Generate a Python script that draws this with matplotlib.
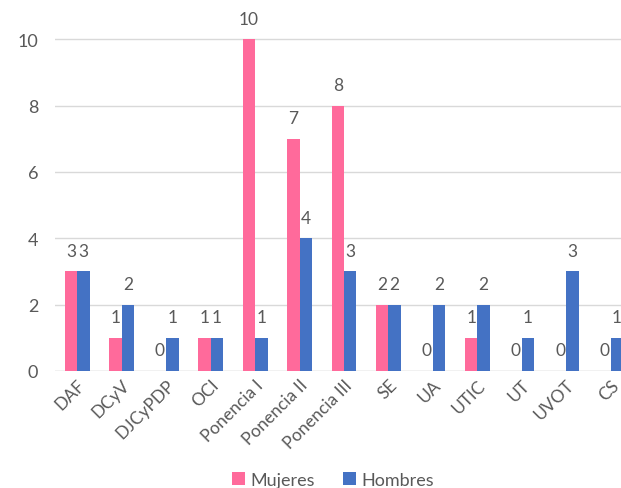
import matplotlib.pyplot as plt
import numpy as np

plt.rcParams['font.family'] = ['Lato', 'DejaVu Sans']

categories = ["DAF", "DCyV", "DJCyPDP", "OCI", "Ponencia I", "Ponencia II", "Ponencia III",
              "SE", "UA", "UTIC", "UT", "UVOT", "CS"]
mujeres = [3, 1, 0, 1, 10, 7, 8, 2, 0, 1, 0, 0, 0]
hombres = [3, 2, 1, 1, 1, 4, 3, 2, 2, 2, 1, 3, 1]

pink = "#FF6A9B"
blue = "#4472C4"
gray = "#595959"

fig = plt.figure(figsize=(6.21, 4.89), dpi=100)
W, H = 621, 489
left, right, bottom, top = 55, 633, 372, 7
ax = fig.add_axes([left / W, (H - bottom) / H, (right - left) / W, (bottom - top) / H])

x = np.arange(len(categories))
w = 0.28
b1 = ax.bar(x - w / 2, mujeres, w, color=pink, label="Mujeres", zorder=3)
b2 = ax.bar(x + w / 2, hombres, w, color=blue, label="Hombres", zorder=3)

for bars, vals in ((b1, mujeres), (b2, hombres)):
    for rect, v in zip(bars, vals):
        ax.annotate(str(v), (rect.get_x() + rect.get_width() / 2, v),
                    xytext=(0, 9), textcoords="offset points",
                    ha="center", va="bottom", fontsize=12.5, color=gray)

ax.set_xlim(-0.5, len(categories) - 0.5)
ax.set_ylim(0, 11)
ax.set_yticks([0, 2, 4, 6, 8, 10])
ax.yaxis.grid(True, color="#D9D9D9", linewidth=1, zorder=0)
ax.tick_params(axis="y", length=0, labelsize=13, labelcolor=gray, pad=12)
ax.tick_params(axis="x", length=0, labelsize=12.5, labelcolor=gray, pad=4)
ax.set_xticks(x)
ax.set_xticklabels(categories, rotation=45, ha="right", rotation_mode="anchor")
for s in ax.spines.values():
    s.set_visible(False)
ax.axhline(0, color="#D9D9D9", linewidth=1, zorder=2)

fig.legend(handles=[b1, b2], loc="center", bbox_to_anchor=(333 / W, 1 - 481 / H),
           ncol=2, frameon=False, fontsize=13, labelcolor=gray,
           handlelength=0.7, handleheight=0.7, handletextpad=0.3, columnspacing=1.6)

fig.savefig("out.png", dpi=100)
